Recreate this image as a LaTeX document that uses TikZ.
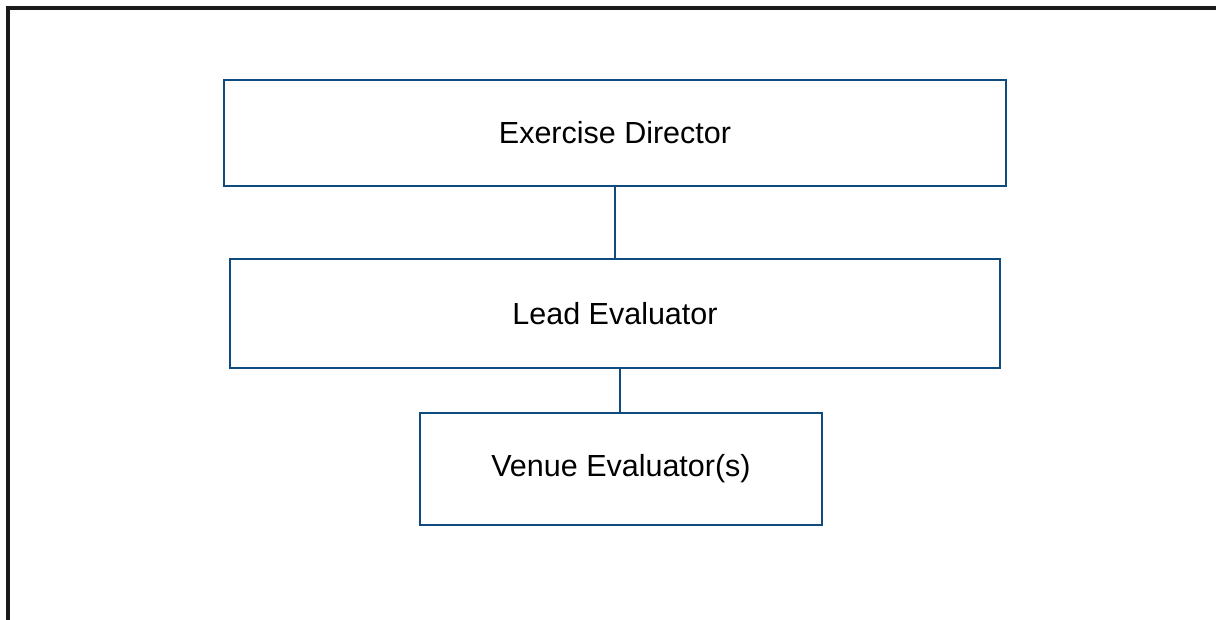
\documentclass[tikz,border=0pt]{standalone}
\usepackage{fontspec}
\setmainfont{Liberation Sans}
\definecolor{boxblue}{RGB}{14,76,128}
\definecolor{framegray}{RGB}{26,26,26}
\begin{document}
\begin{tikzpicture}[x=1pt,y=-1pt,
  orgbox/.style={draw=boxblue, line width=2.4pt, rectangle, inner sep=0pt, font=\fontsize{30.5}{36}\selectfont, text=black},
  link/.style={draw=boxblue, line width=2.4pt}]
\useasboundingbox (0,0) rectangle (1216,619);
\begin{scope}
\clip (0,0) rectangle (1216,619);
\draw[framegray, line width=4pt] (8,630) -- (8,8) -- (1230,8);
\end{scope}
\node[orgbox, minimum width=782pt, minimum height=106pt] (dir) at (615,133) {Exercise Director};
\node[orgbox, minimum width=770pt, minimum height=109pt] (lead) at (615,313.5) {Lead Evaluator};
\node[orgbox, minimum width=402pt, minimum height=112pt] (venue) at (621,469) {Venue Evaluator(s)};
\draw[link] (dir.south) -- (lead.north);
\draw[link] ([xshift=-1pt]venue.north) -- ([xshift=-1pt]venue.north |- lead.south);
\end{tikzpicture}
\end{document}
